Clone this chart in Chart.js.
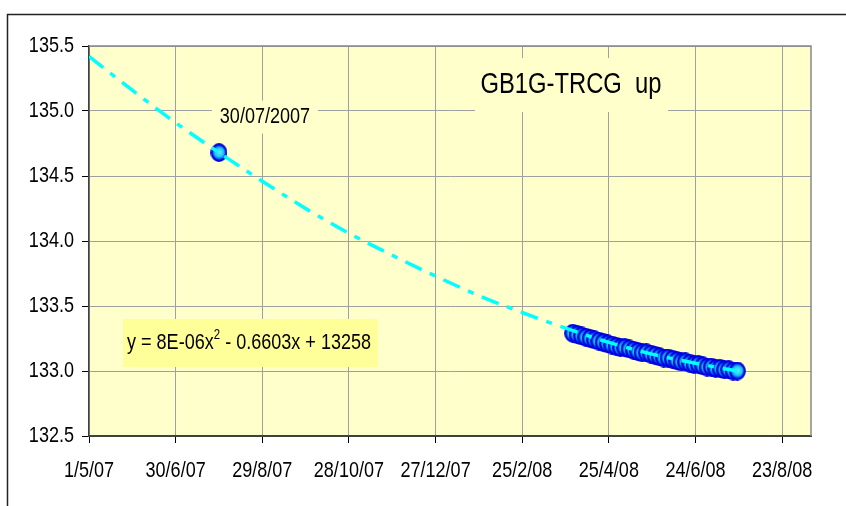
<!DOCTYPE html>
<html>
<head>
<meta charset="utf-8">
<script src="https://cdn.jsdelivr.net/npm/chart.js@4"></script>
<style>
  html, body { margin: 0; padding: 0; background: #fff; }
  #wrap { width: 846px; height: 506px; }
</style>
</head>
<body>
<div id="wrap"><canvas id="chart" width="846" height="506"></canvas></div>
<script>
// fitted trend line
const trendDates = ['2007-05-01', '2007-05-31', '2007-06-30', '2007-07-30', '2007-08-29', '2007-09-28',
  '2007-10-28', '2007-11-27', '2007-12-27', '2008-01-26', '2008-02-25', '2008-03-26', '2008-04-25',
  '2008-05-25', '2008-06-24', '2008-07-23']
const trendValues = [135.42, 135.16, 134.91, 134.68, 134.46, 134.25, 134.06, 133.89, 133.73, 133.58,
  133.45, 133.33, 133.22, 133.13, 133.06, 133.00]

// measured points
const obsDates = ['2007-07-30',
  '2008-03-31', '2008-04-03', '2008-04-06', '2008-04-09', '2008-04-12', '2008-04-15', '2008-04-18',
  '2008-04-21', '2008-04-24', '2008-04-27', '2008-04-30', '2008-05-03', '2008-05-06', '2008-05-09',
  '2008-05-12', '2008-05-15', '2008-05-18', '2008-05-21', '2008-05-24', '2008-05-27', '2008-05-30',
  '2008-06-02', '2008-06-05', '2008-06-08', '2008-06-11', '2008-06-14', '2008-06-17', '2008-06-20',
  '2008-06-23', '2008-06-26', '2008-06-29', '2008-07-02', '2008-07-05', '2008-07-08', '2008-07-11',
  '2008-07-14', '2008-07-17', '2008-07-20', '2008-07-23']
const obsValues = [134.68,
  133.29, 133.28, 133.27, 133.26, 133.25, 133.24, 133.23, 133.22, 133.21, 133.20, 133.19, 133.18,
  133.18, 133.17, 133.16, 133.15, 133.14, 133.14, 133.13, 133.12, 133.11, 133.10, 133.10, 133.09,
  133.08, 133.07, 133.07, 133.06, 133.05, 133.05, 133.04, 133.03, 133.03, 133.02, 133.02, 133.01,
  133.01, 133.00, 133.00]
const pointLabels = { 0: '30/07/2007' }

const xTickDates = ['2007-05-01', '2007-06-30', '2007-08-29', '2007-10-28', '2007-12-27',
  '2008-02-25', '2008-04-25', '2008-06-24', '2008-08-23']
const xTickLabels = ['1/5/07', '30/6/07', '29/8/07', '28/10/07', '27/12/07', '25/2/08', '25/4/08', '24/6/08', '23/8/08']
const xEnd = '2008-09-12'
const yMin = 132.5
const yMax = 135.5
const yStep = 0.5

const chartTitle = 'GB1G-TRCG  up'
const equation = ['y = 8E-06x', '2', ' - 0.6603x + 13258']

const FONT = '"Liberation Sans", Arial, sans-serif'
const SQUEEZE = 0.82 // Excel's text looks like Arial Narrow
const PLOT_BG = '#ffffcc'

function dayNum (s) {
  return (Date.parse(s) - Date.parse(xTickDates[0])) / 864e5
}

const trendData = trendDates.map((d, i) => ({ x: dayNum(d), y: trendValues[i] }))
const obsData = obsDates.map((d, i) => ({ x: dayNum(d), y: obsValues[i] }))
const tickDays = xTickDates.map(dayNum)

// narrow text: draw regular font squeezed horizontally, returns width
function narrowText (c, text, x, y, size, align) {
  c.save()
  c.font = size + 'px ' + FONT
  c.textAlign = align || 'left'
  c.textBaseline = 'middle'
  c.translate(x, y)
  c.scale(SQUEEZE, 1)
  c.fillText(text, 0, 0)
  const w = c.measureText(text).width * SQUEEZE
  c.restore()
  return w
}

// marker image: blue rim, cyan core
function makeMarker () {
  const m = document.createElement('canvas')
  m.width = 17
  m.height = 19
  const g = m.getContext('2d')
  const grad = g.createRadialGradient(9, 9, 1, 8.5, 9.5, 8)
  grad.addColorStop(0, '#50e6ff')
  grad.addColorStop(0.5, '#1ec8f2')
  grad.addColorStop(0.75, '#0a66f0')
  grad.addColorStop(1, '#0000ee')
  g.fillStyle = grad
  g.beginPath()
  g.ellipse(8.5, 9.5, 7.4, 8.4, 0, 0, Math.PI * 2)
  g.fill()
  g.strokeStyle = '#0000dd'
  g.lineWidth = 2
  g.stroke()
  return m
}

const decor = {
  id: 'decor',
  beforeDraw (chart) {
    const c = chart.ctx
    const a = chart.chartArea
    c.save()
    c.fillStyle = '#fff'
    c.fillRect(0, 0, chart.width, chart.height)
    // outer frame (top and left only visible)
    c.strokeStyle = '#222'
    c.lineWidth = 1.5
    c.beginPath()
    c.moveTo(7.5, chart.height)
    c.lineTo(7.5, 14.5)
    c.lineTo(chart.width, 14.5)
    c.stroke()
    c.fillStyle = PLOT_BG
    c.fillRect(a.left, a.top, a.right - a.left, a.bottom - a.top)
    c.restore()
  },
  beforeDatasetsDraw (chart) {
    const c = chart.ctx
    const a = chart.chartArea
    c.save()
    c.strokeStyle = '#888'
    c.lineWidth = 1.5
    c.beginPath()
    c.moveTo(a.left, a.top)
    c.lineTo(a.right, a.top)
    c.lineTo(a.right, a.bottom)
    c.stroke()

    // title box
    c.fillStyle = PLOT_BG
    c.fillRect(475, 58, 193, 54)
    c.fillStyle = '#000'
    narrowText(c, chartTitle, 571, 85, 29, 'center')

    // trend equation box
    c.fillStyle = '#ffff99'
    c.fillRect(123, 319, 255, 48)
    c.fillStyle = '#000'
    let x = 127
    const y = 343
    x += narrowText(c, equation[0], x, y, 22)
    x += narrowText(c, equation[1], x, y - 8, 14)
    narrowText(c, equation[2], x, y, 22)

    // tick labels, placed by the chart's own scales
    const xs = chart.scales.x
    xs.ticks.forEach((t, i) => {
      narrowText(c, xTickLabels[i], xs.getPixelForValue(t.value), 471, 22, 'center')
    })
    const ys = chart.scales.y
    ys.ticks.forEach(t => {
      narrowText(c, t.value.toFixed(1), 74, ys.getPixelForValue(t.value), 22, 'right')
    })
    c.restore()
  },
  afterDatasetsDraw (chart) {
    const c = chart.ctx
    const meta = chart.getDatasetMeta(1)
    c.save()
    Object.keys(pointLabels).forEach(k => {
      const p = meta.data[k]
      const tx = p.x + 46
      const ty = p.y - 36
      c.fillStyle = PLOT_BG
      c.fillRect(tx - 53, ty - 16, 106, 33)
      c.fillStyle = '#000'
      narrowText(c, pointLabels[k], tx, ty, 22, 'center')
    })
    c.restore()
  }
}

const ctx = document.getElementById('chart').getContext('2d')
new Chart(ctx, {
  type: 'scatter',
  data: {
    datasets: [
      {
        label: 'trend',
        data: trendData,
        showLine: true,
        borderColor: '#00ffff',
        borderWidth: 3.5,
        borderDash: [18, 9, 6, 9],
        pointRadius: 0,
        tension: 0.4,
        cubicInterpolationMode: 'monotone'
      },
      {
        label: 'GB1G-TRCG up',
        data: obsData,
        showLine: false,
        pointStyle: makeMarker(),
        pointRadius: 8
      }
    ]
  },
  options: {
    responsive: false,
    animation: false,
    layout: { padding: { left: 0, top: 46, right: 35, bottom: 0 } },
    plugins: { legend: { display: false }, tooltip: { enabled: false } },
    scales: {
      x: {
        type: 'linear',
        min: 0,
        max: dayNum(xEnd),
        afterBuildTicks (scale) {
          scale.ticks = tickDays.map(v => ({ value: v }))
        },
        afterFit (scale) { scale.height = 70 },
        ticks: {
          autoSkip: false,
          maxRotation: 0,
          color: 'rgba(0,0,0,0)',
          font: { family: FONT, size: 18 },
          callback: (v) => xTickLabels[tickDays.indexOf(v)]
        },
        grid: { color: '#a0a0a0', lineWidth: 1, tickLength: 7, tickColor: '#000' },
        border: { color: '#404040', width: 2 }
      },
      y: {
        min: yMin,
        max: yMax,
        afterFit (scale) { scale.width = 89 },
        ticks: {
          stepSize: yStep,
          color: 'rgba(0,0,0,0)',
          font: { family: FONT, size: 18 },
          callback: (v) => v.toFixed(1)
        },
        grid: { color: '#a0a0a0', lineWidth: 1, tickLength: 7, tickColor: '#000' },
        border: { color: '#404040', width: 1.5 }
      }
    }
  },
  plugins: [decor]
})
</script>
</body>
</html>
